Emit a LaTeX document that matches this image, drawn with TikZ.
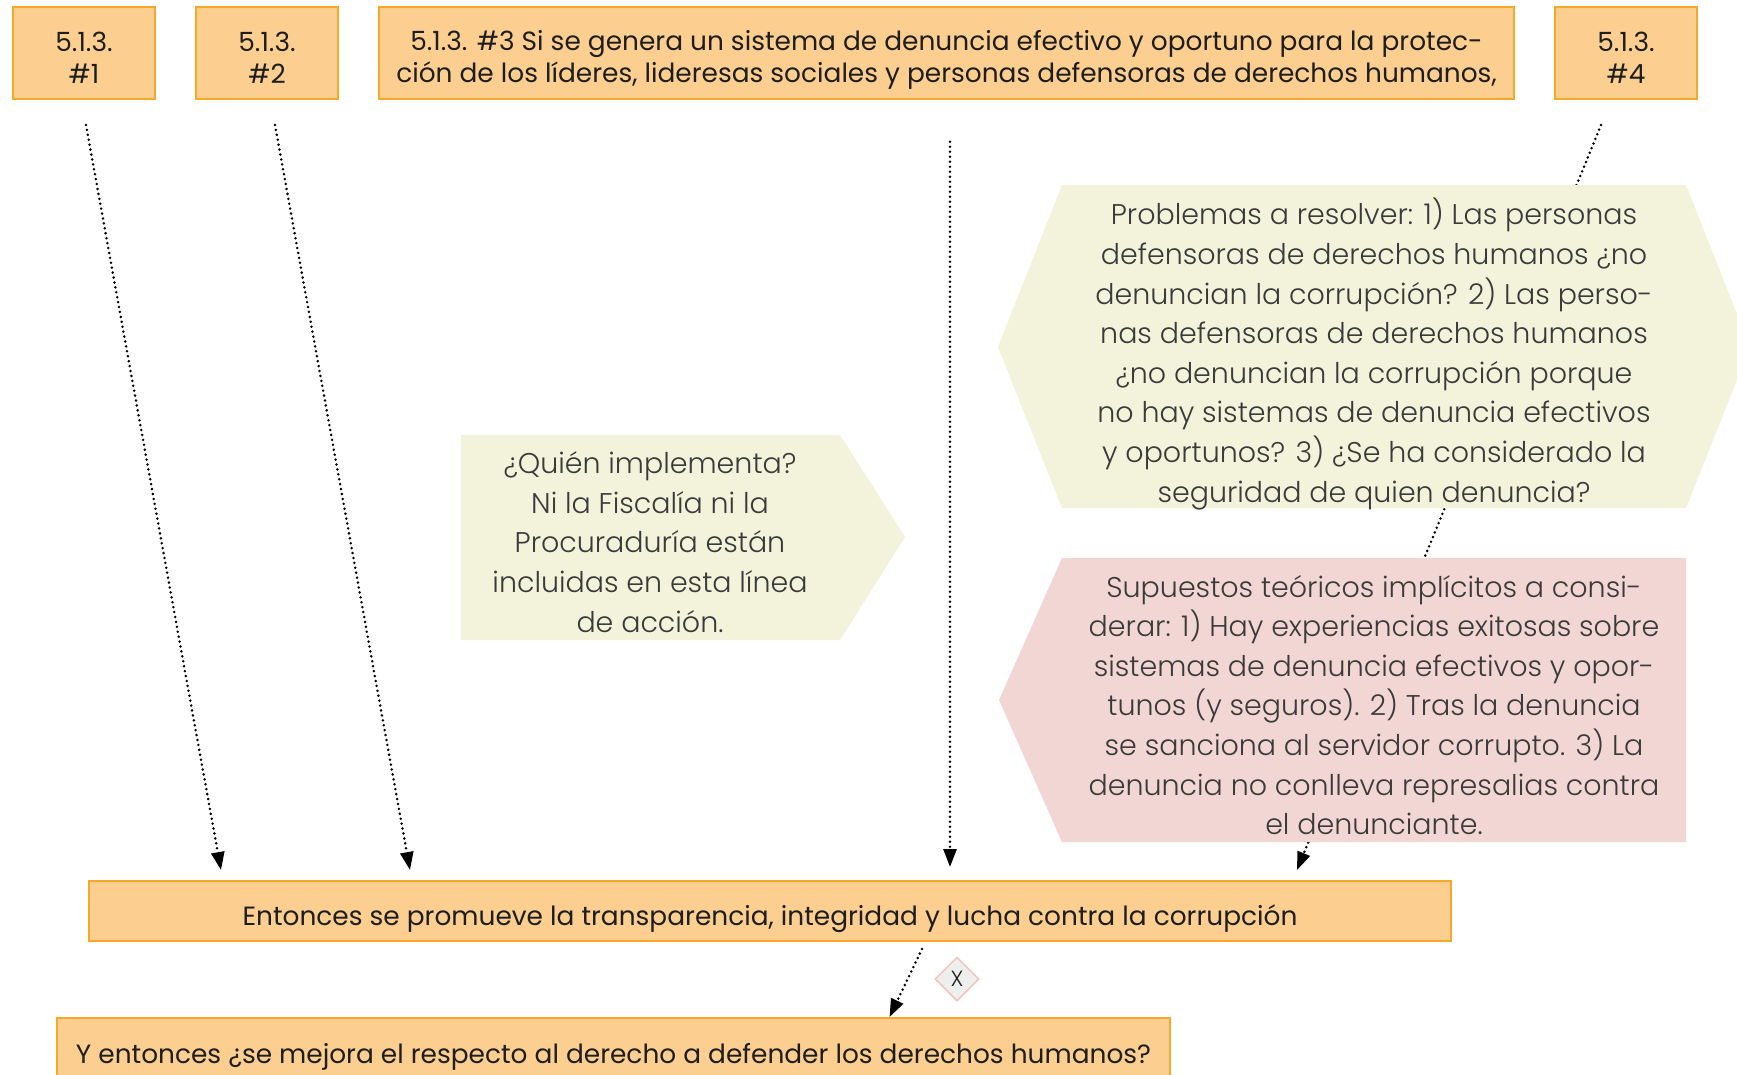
\documentclass[tikz,border=0pt]{standalone}
\usepackage{fontspec}
\setmainfont{Poppins}
\newfontfamily\lightfont{Poppins Light}
\usetikzlibrary{arrows.meta,shapes.geometric}
\definecolor{boxfill}{HTML}{FCCE8F}
\definecolor{boxline}{HTML}{F6A827}
\definecolor{hexfill}{HTML}{F2F3DA}
\definecolor{pinkfill}{HTML}{F2D6D3}
\definecolor{txtgray}{HTML}{3A3A3A}
\definecolor{txtdark}{HTML}{1E1E1E}
\definecolor{diafill}{HTML}{EEEEEE}
\definecolor{dialine}{HTML}{F2C4BE}
\pgfdeclarelayer{bg}
\pgfdeclarelayer{lines}
\pgfsetlayers{bg,lines,main}
\begin{document}
\begin{tikzpicture}[x=1pt,y=-1pt,
  box/.style={draw=boxline, line width=1.5pt, fill=boxfill, inner sep=0pt},
  boxtext/.style={inner sep=0pt, text=txtdark, font=\fontsize{26.4}{32}\selectfont, align=center},
  note/.style={inner sep=0pt, text=txtgray, font=\lightfont\fontsize{28.5}{39.6}\selectfont, align=center},
  conn/.style={line width=2.8pt, dash pattern=on 0pt off 5pt, line cap=round,
    -{Triangle[length=18pt,width=13pt]}},
  xmark/.style={diamond, draw=dialine, line width=1.5pt, fill=diafill, inner sep=0pt,
    minimum width=44pt, minimum height=44pt, font=\lightfont\fontsize{22}{24}\selectfont, text=txtdark},
]
\begin{pgfonlayer}{bg}
\fill[white] (0,0) rectangle (1737,1074);
\end{pgfonlayer}
\useasboundingbox (0,0) rectangle (1737,1074);

% top boxes
\node[box, minimum width=142pt, minimum height=92pt] (b1) at (84,53) {};
\node[boxtext] (b1t) at (84,58) {5.1.3.\\\#1};
\node[box, minimum width=142pt, minimum height=92pt] (b2) at (267,53) {};
\node[boxtext] (b2t) at (267,58) {5.1.3.\\\#2};
\node[box, minimum width=1135pt, minimum height=92pt] (b3) at (946.5,53) {};
\node[boxtext] (b3t) at (946.5,60)
  {5.1.3. \#3 Si se genera un sistema de denuncia efectivo y oportuno para la protec-\\
   ción de los líderes, lideresas sociales y personas defensoras de derechos humanos,};
\node[box, minimum width=142pt, minimum height=92pt] (b4) at (1626,53) {};
\node[boxtext] (b4t) at (1626,58) {5.1.3.\\\#4};

% problem hexagon
\fill[hexfill] (998,347) -- (1062,185) -- (1686,185) -- (1750,347) -- (1686,508) -- (1062,508) -- cycle;
\node[note] (prob) at (1374,354)
  {Problemas a resolver: 1) Las personas\\
   defensoras de derechos humanos ¿no\\
   denuncian la corrupción? 2) Las perso-\\
   nas defensoras de derechos humanos\\
   ¿no denuncian la corrupción porque\\
   no hay sistemas de denuncia efectivos\\
   y oportunos? 3) ¿Se ha considerado la\\
   seguridad de quien denuncia?};

% assumptions
\fill[pinkfill] (999,700) -- (1062,558) -- (1686,558) -- (1686,842) -- (1062,842) -- cycle;
\node[note] (sup) at (1374,705)
  {Supuestos teóricos implícitos a consi-\\
   derar: 1) Hay experiencias exitosas sobre\\
   sistemas de denuncia efectivos y opor-\\
   tunos (y seguros). 2) Tras la denuncia\\
   se sanciona al servidor corrupto. 3) La\\
   denuncia no conlleva represalias contra\\
   el denunciante.};

% who implements
\fill[hexfill] (461,435) -- (840,435) -- (905,537) -- (840,640) -- (461,640) -- cycle;
\node[note] (quien) at (650,542)
  {¿Quién implementa?\\
   Ni la Fiscalía ni la\\
   Procuraduría están\\
   incluidas en esta línea\\
   de acción.};

% bottom boxes
\node[box, minimum width=1362pt, minimum height=60pt] (ent) at (770,911) {};
\node[boxtext] (entt) at (770,919)
  {Entonces se promueve la transparencia, integridad y lucha contra la corrupción};
\node[box, minimum width=1113pt, minimum height=80pt, anchor=north] (yent) at (613.5,1017) {};
\node[boxtext] (yentt) at (613.5,1057)
  {Y entonces ¿se mejora el respecto al derecho a defender los derechos humanos?};
\node[xmark] (x) at (957,979) {X};

% connector end points
\coordinate (s1) at (86,125);
\coordinate (e1) at (221,870);
\coordinate (s2) at (275,125);
\coordinate (e2) at (410,870);
\coordinate (e3) at (950,881);
\coordinate (s4) at (1601,125);
\coordinate (e4) at (1297,870);
\coordinate (s5) at (922,949);
\coordinate (e5) at (889.5,1017);

\begin{pgfonlayer}{lines}
\draw[conn] (s1) -- (e1);
\draw[conn] (s2) -- (e2);
\draw[conn, shorten <=42pt, shorten >=14pt] (b3.south -| e3) -- (e3);
\draw[conn] (s4) -- (e4);
\draw[conn] (s5) -- (e5);
\end{pgfonlayer}
\end{tikzpicture}
\end{document}
